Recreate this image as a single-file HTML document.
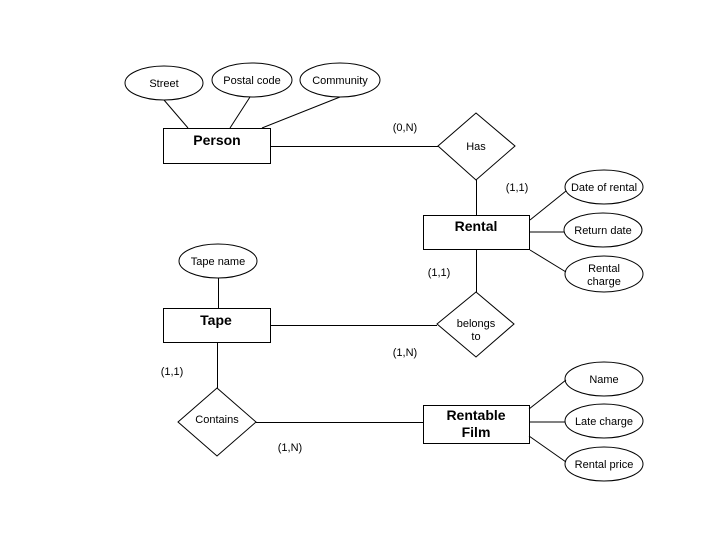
<!DOCTYPE html>
<html><head><style>body{margin:0;background:#fff}svg{display:block}text{font-family:"Liberation Sans",Arial,sans-serif;fill:#000}</style></head><body>
<svg width="720" height="540" viewBox="0 0 720 540" xmlns="http://www.w3.org/2000/svg">
<g fill="none" stroke="#000" stroke-width="1">
<ellipse cx="164" cy="83" rx="39" ry="17"/>
<ellipse cx="252" cy="80" rx="40" ry="17"/>
<ellipse cx="340" cy="80" rx="40" ry="17"/>
<rect x="163.5" y="128.5" width="107" height="35"/>
<line x1="164" y1="100" x2="188" y2="128"/>
<line x1="250" y1="97" x2="230" y2="128"/>
<line x1="340" y1="97" x2="262" y2="128"/>
<line x1="270" y1="146.5" x2="438" y2="146.5"/>
<polygon points="476,113 515,146 476,180 438,146"/>
<line x1="476.5" y1="180" x2="476.5" y2="215"/>
<rect x="423.5" y="215.5" width="106" height="34"/>
<ellipse cx="604" cy="187" rx="39" ry="17"/>
<ellipse cx="603" cy="230" rx="39" ry="17"/>
<ellipse cx="604" cy="274" rx="39" ry="18"/>
<line x1="530" y1="220" x2="566" y2="191"/>
<line x1="530" y1="232" x2="564" y2="232"/>
<line x1="530" y1="250" x2="566" y2="272"/>
<line x1="476.5" y1="249" x2="476.5" y2="292"/>
<polygon points="476,292 514,324 476,357 437,324"/>
<rect x="163.5" y="308.5" width="107" height="34"/>
<ellipse cx="218" cy="261" rx="39" ry="17"/>
<line x1="218.5" y1="278" x2="218.5" y2="308"/>
<line x1="270" y1="325.5" x2="437" y2="325.5"/>
<line x1="217.5" y1="342" x2="217.5" y2="388"/>
<polygon points="217,388 256,422 217,456 178,422"/>
<line x1="256" y1="422.5" x2="423" y2="422.5"/>
<rect x="423.5" y="405.5" width="106" height="38"/>
<ellipse cx="604" cy="379" rx="39" ry="17"/>
<ellipse cx="604" cy="421" rx="39" ry="17"/>
<ellipse cx="604" cy="464" rx="39" ry="17"/>
<line x1="529" y1="409" x2="566" y2="380"/>
<line x1="529" y1="422" x2="565" y2="422"/>
<line x1="529" y1="436" x2="566" y2="462"/>
</g>
<g font-size="11" text-anchor="middle">
<text x="164" y="87">Street</text>
<text x="252" y="84">Postal code</text>
<text x="340" y="84">Community</text>
<text x="476" y="150">Has</text>
<text x="604" y="191">Date of rental</text>
<text x="603" y="234">Return date</text>
<text x="604" y="272">Rental</text>
<text x="604" y="285">charge</text>
<text x="218" y="265">Tape name</text>
<text x="476" y="327">belongs</text>
<text x="476" y="340">to</text>
<text x="217" y="423">Contains</text>
<text x="604" y="383">Name</text>
<text x="604" y="425">Late charge</text>
<text x="604" y="468">Rental price</text>
<text x="405" y="131">(0,N)</text>
<text x="517" y="191">(1,1)</text>
<text x="439" y="276">(1,1)</text>
<text x="405" y="356">(1,N)</text>
<text x="172" y="375">(1,1)</text>
<text x="290" y="451">(1,N)</text>
</g>
<g font-size="14" font-weight="bold" text-anchor="middle">
<text x="217" y="145">Person</text>
<text x="476" y="231">Rental</text>
<text x="216" y="325">Tape</text>
<text x="476" y="420">Rentable</text>
<text x="476" y="437">Film</text>
</g>
</svg>
</body></html>
